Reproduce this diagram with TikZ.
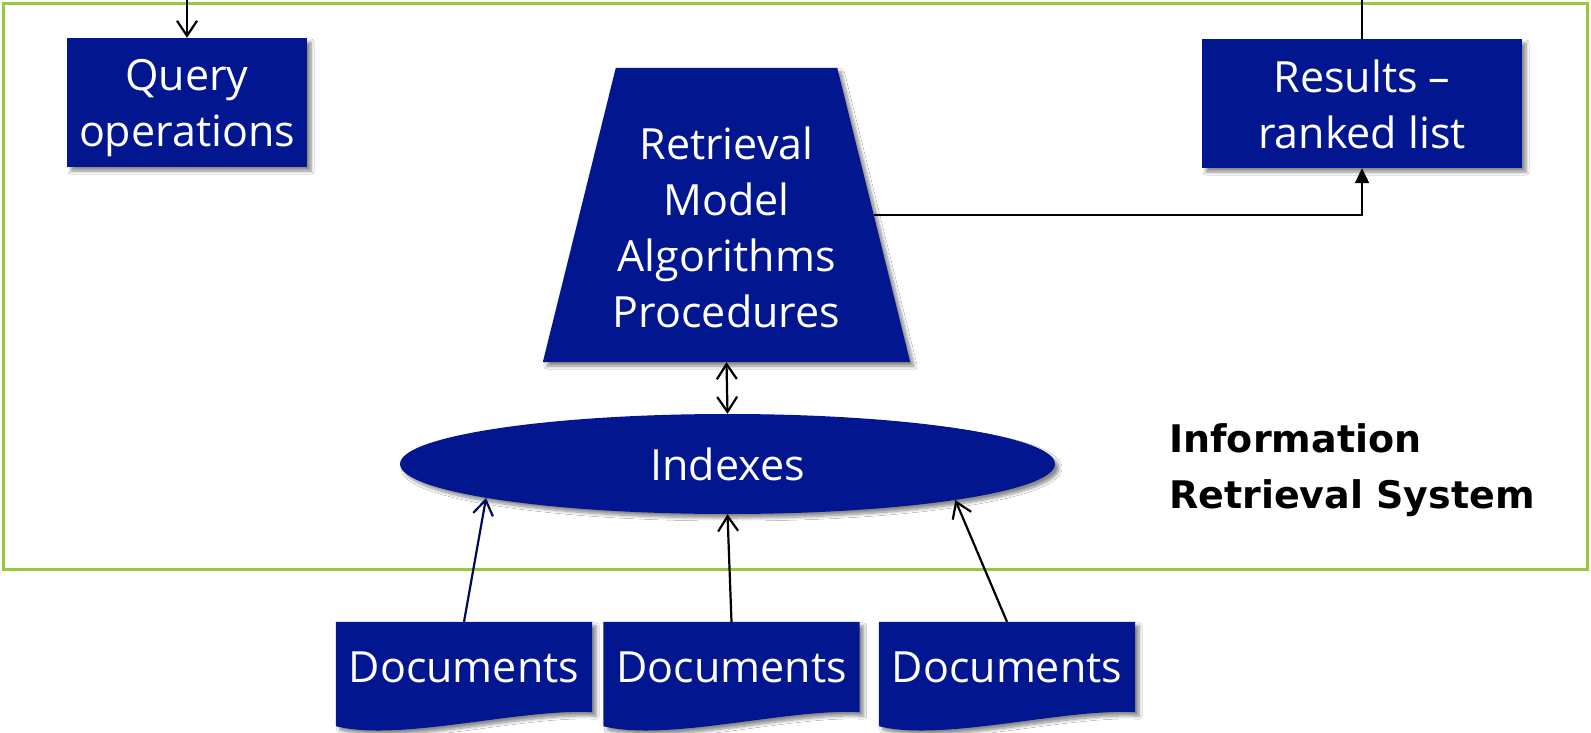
\documentclass[tikz,border=0pt]{standalone}
\usepackage{fontspec}
\setmainfont{Open Sans}
\newfontfamily\labelfont{DejaVu Sans}
\usetikzlibrary{shapes.geometric,arrows.meta,shadows.blur,calc}
\definecolor{navy}{RGB}{2,22,143}
\definecolor{linknavy}{RGB}{0,10,90}
\definecolor{framegreen}{RGB}{152,200,60}
\tikzset{
  softshadow/.style={blur shadow={shadow xshift=4pt, shadow yshift=-4pt,
      shadow blur steps=8, shadow blur radius=3pt, shadow opacity=45}},
  bluebox/.style={fill=navy, inner sep=0pt, softshadow},
  boxtext/.style={text=white, align=center, inner sep=0pt,
      font=\fontsize{43}{56}\selectfont},
  conn/.style={line width=2.2pt, black},
  barb/.style={-{Straight Barb[length=15pt,width=20pt]}},
  twobarb/.style={{Straight Barb[length=15pt,width=20pt]}-{Straight Barb[length=15pt,width=20pt]}},
}
\begin{document}
\begin{tikzpicture}[x=1pt,y=-1pt]
\useasboundingbox (0,0) rectangle (1591,733);
\fill[white] (0,0) rectangle (1591,733);

% system frame
\draw[framegreen, line width=3pt] (3,4) rectangle (1587,569);

% query and results boxes
\node[bluebox, minimum width=240pt, minimum height=129pt] (query) at (187,102.5) {};
\node[boxtext] (querytext) at ($(query)+(0,6)$) {Query\\operations};
\node[bluebox, minimum width=320pt, minimum height=129pt] (results) at (1362,103.5) {};
\node[boxtext] (resultstext) at ($(results)+(0,1)$) {Results –\\ranked list};

% retrieval model (trapezoid)
\node[minimum width=367pt, minimum height=294pt, inner sep=0pt] (model) at (726.5,215) {};
\fill[navy, softshadow] (model.south west) -- (model.south east)
  -- ([xshift=-73pt]model.north east) -- ([xshift=73pt]model.north west) -- cycle;
\node[boxtext] (modeltext) at ($(model)+(0,12.7)$) {Retrieval\\Model\\Algorithms\\Procedures};
\coordinate (modelR) at ([xshift=-36.5pt]model.east);

% indexes
\node[ellipse, fill=navy, softshadow, minimum width=655pt, minimum height=100pt,
      inner sep=0pt, text=white, font=\fontsize{43}{56}\selectfont] (idx) at (727.5,464) {Indexes};

% documents
\foreach \n/\x in {d1/464, d2/731.5, d3/1007} {
  \node[minimum width=256pt, minimum height=90pt, inner sep=0pt] (\n) at (\x,667) {};
  \fill[navy, softshadow] (\n.north west) -- (\n.north east) -- (\n.south east)
    .. controls ([xshift=-72pt,yshift=4pt]\n.south east)
    and ([xshift=64pt,yshift=-30pt]\n.south west) .. ([yshift=-14pt]\n.south west) -- cycle;
  \node[boxtext] (\n text) at (\n) {Documents};
}

% system label
\node[anchor=west, align=left, inner sep=0pt,
      font=\labelfont\bfseries\fontsize{38}{56}\selectfont] (sysname) at (1169,470)
  {Information\\Retrieval System};

% connectors
\coordinate (qin) at (187,-2);
\coordinate (rout) at (1362,-2);
\draw[conn, barb] (qin) -- (query.north);
\draw[conn] (results.north) -- (rout);
\draw[conn, -{Triangle[length=15pt,width=14pt]}] (modelR) -| (results.south);
\draw[conn, twobarb] (model.south) -- (idx.north);
\draw[conn, linknavy, barb] (d1.north) -- (idx.188.6);
\draw[conn, barb] (d2.north) -- (idx.south);
\draw[conn, barb] (d3.north) -- (idx.351.4);
\end{tikzpicture}
\end{document}
